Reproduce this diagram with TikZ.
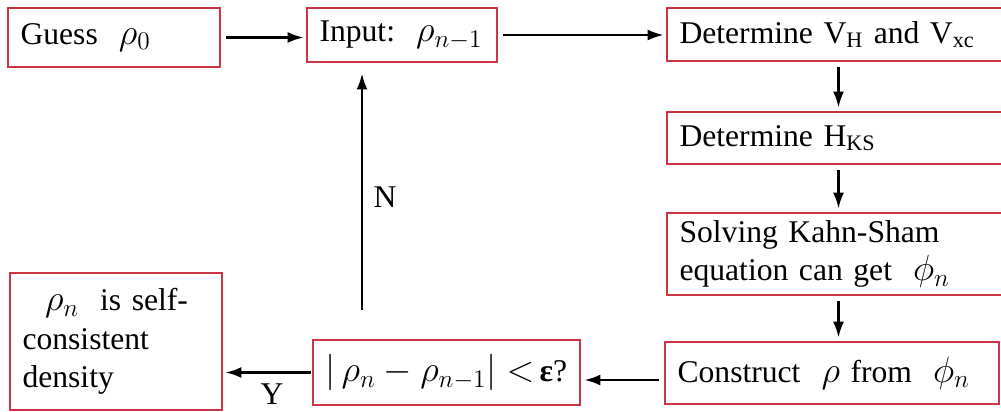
\documentclass[tikz,border=0pt]{standalone}
\usepackage{fontspec}
\setmainfont{Liberation Serif}
\newfontfamily\boxfont{Liberation Serif}
\usetikzlibrary{arrows.meta}
\definecolor{boxred}{RGB}{204,52,66}
\newcommand{\symsz}[1]{{\fontsize{22}{22}\selectfont$#1$}}
\tikzset{
      stepbox/.style={
        draw=boxred,
        line width=1.6pt,
        fill=white,
        align=left,
        inner xsep=0.25cm,
        inner ysep=0pt,
        font=\boxfont\fontsize{18}{22}\selectfont
      },
      flow/.style={-{Latex[length=3.2mm,width=2.2mm]}, line width=1.4pt, black},
      flowlabel/.style={font=\boxfont\fontsize{18}{22}\selectfont}
    }
\begin{document}
\begin{tikzpicture}[x=0.02cm,y=-0.02cm]
    \useasboundingbox (0,0) rectangle (1001,412);
    \node[stepbox, minimum width=4.24cm, minimum height=1.18cm, text width=3.74cm] (guess) at (114,37.5) {Guess\ \ \symsz{\rho_0}};
    \node[stepbox, minimum width=3.8cm, minimum height=1.08cm, text width=3.3cm] (input) at (402,35) {Input:\ \ \symsz{\rho_{n-1}}};
    \node[stepbox, minimum width=6.86cm, minimum height=1.06cm, text width=6.36cm] (vh) at (838.5,34.5) {Determine V\textsubscript{H} and V\textsubscript{xc}};
    \node[stepbox, minimum width=6.86cm, minimum height=1.04cm, text width=6.36cm] (hks) at (838.5,138) {Determine H\textsubscript{KS}};
    \node[stepbox, minimum width=6.86cm, minimum height=1.64cm, text width=6.36cm] (solve) at (838.5,254) {Solving Kahn-Sham\\equation can get\ \ \symsz{\phi_n}};
    \node[stepbox, minimum width=6.68cm, minimum height=1.24cm, text width=6.18cm] (construct) at (832,373) {Construct\ \ \symsz{\rho}\ from\ \ \symsz{\phi_n}};
    \node[stepbox, minimum width=5.34cm, minimum height=1.3cm, text width=4.84cm] (check) at (446.5,372.5) {\symsz{|\,\rho_n-\rho_{n-1}|<}\,\textbf{ε}?};
    \node[stepbox, minimum width=4.24cm, minimum height=2.74cm, text width=3.74cm] (selfc) at (116,341.5) {\hspace{0.45cm}\symsz{\rho_n}\ \ is self-\\consistent\\density};
    \coordinate (fbstart) at (362,310);
    \node[flowlabel] (nlabel) at (385,197) {N};
    \node[flowlabel] (ylabel) at (272,394) {Y};
    \draw[flow, shorten <=0.1cm, shorten >=0.04cm] (guess.east) -- (guess.east -| input.west);
    \draw[flow, shorten <=0.1cm, shorten >=0.04cm] (input.east) -- (input.east -| vh.west);
    \draw[flow, shorten <=0.1cm, shorten >=0.06cm] (vh.south) -- (hks.north);
    \draw[flow, shorten <=0.1cm, shorten >=0.06cm] (hks.south) -- (solve.north);
    \draw[flow, shorten <=0.1cm, shorten >=0.06cm] (solve.south) -- (solve.south |- construct.north);
    \draw[flow, shorten <=0.1cm, shorten >=0.06cm] ([yshift=-0.14cm]construct.west) -- ([yshift=-0.14cm]construct.west -| check.east);
    \draw[flow, shorten <=0.02cm, shorten >=0.04cm] (check.west) -- (check.west -| selfc.east);
    \draw[flow, shorten >=0.2cm] (fbstart) -- (fbstart |- input.south);
    \end{tikzpicture}
\end{document}
